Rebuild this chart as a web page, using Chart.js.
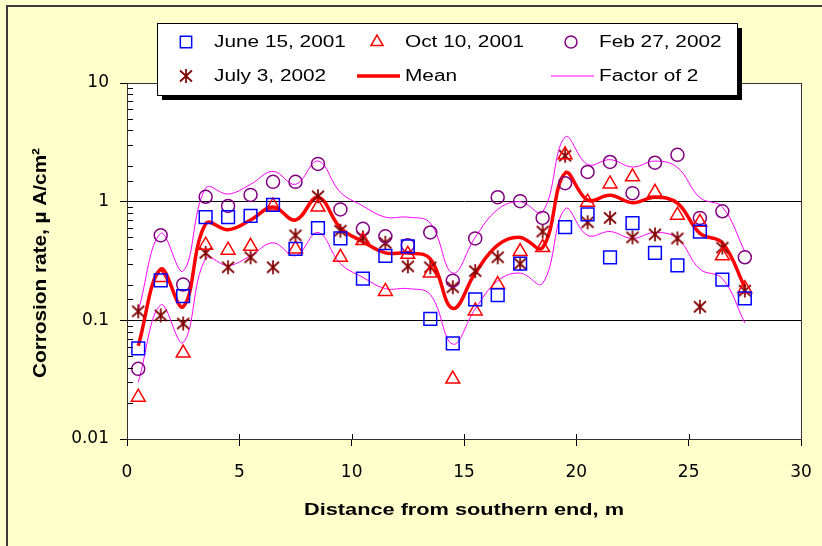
<!DOCTYPE html>
<html>
<head>
<meta charset="utf-8">
<title>Corrosion rate</title>
<script src="https://cdn.jsdelivr.net/npm/chart.js@4.4.0/dist/chart.umd.min.js"></script>
<style>
    html, body { margin: 0; padding: 0; background: #FFFFCC; }
    #wrap { width: 822px; height: 546px; }
</style>
</head>
<body>
<div id="wrap"><canvas id="corrosionChart" width="822" height="546"></canvas></div>
<script>
// positions along the structure, m
var distance = [0.5, 1.5, 2.5, 3.5, 4.5, 5.5, 6.5, 7.5, 8.5, 9.5, 10.5, 11.5, 12.5, 13.5,
                14.5, 15.5, 16.5, 17.5, 18.5, 19.5, 20.5, 21.5, 22.5, 23.5, 24.5, 25.5, 26.5, 27.5];

// corrosion rate, uA/cm2
var june2001 = [0.058, 0.217, 0.16, 0.74, 0.74, 0.76, 0.94, 0.40, 0.60, 0.49, 0.225, 0.35, 0.42, 0.103,
                0.064, 0.15, 0.163, 0.30, null, 0.61, 0.78, 0.34, 0.66, 0.37, 0.29, 0.56, 0.22, 0.153];
var oct2001 = [0.0225, 0.23, 0.053, 0.43, 0.39, 0.42, 0.92, 0.40, 0.90, 0.34, 0.47, 0.175, 0.36, 0.25,
               0.032, 0.12, 0.20, 0.38, 0.41, 2.48, 0.99, 1.41, 1.62, 1.2, 0.77, 0.67, 0.35, 0.185];
var feb2002 = [0.039, 0.52, 0.20, 1.1, 0.92, 1.14, 1.47, 1.47, 2.08, 0.86, 0.59, 0.51, 0.43, 0.55,
               0.216, 0.49, 1.09, 1.01, 0.73, 1.43, 1.78, 2.16, 1.18, 2.13, 2.48, 0.73, 0.83, 0.34];
var july2002 = [0.119, 0.11, 0.094, 0.37, 0.28, 0.34, 0.28, 0.52, 1.11, 0.57, 0.50, 0.45, 0.285, 0.28,
                0.19, 0.26, 0.34, 0.30, 0.56, 2.44, 0.67, 0.73, 0.50, 0.53, 0.49, 0.13, 0.41, 0.178];
var meanRate = [0.061, 0.27, 0.13, 0.65, 0.58, 0.70, 0.90, 0.70, 1.09, 0.60, 0.46, 0.37, 0.37, 0.33,
                0.126, 0.25, 0.43, 0.50, 0.41, 1.74, 1.03, 1.13, 0.98, 1.09, 0.97, 0.54, 0.45, 0.19];
var factorUpper = [0.12, 0.54, 0.26, 1.3, 1.16, 1.4, 1.8, 1.4, 2.2, 1.2, 0.92, 0.74, 0.74, 0.66,
                   0.25, 0.5, 0.86, 1.0, 0.82, 3.5, 2.06, 2.26, 1.96, 2.2, 1.94, 1.08, 0.9, 0.38];
var factorLower = [0.03, 0.135, 0.065, 0.33, 0.29, 0.35, 0.45, 0.35, 0.55, 0.30, 0.23, 0.185, 0.185, 0.165,
                   0.063, 0.125, 0.215, 0.25, 0.205, 0.87, 0.52, 0.56, 0.49, 0.55, 0.49, 0.27, 0.225, 0.095];

var yTicks = [0.01, 0.1, 1, 10];
var yTickLabels = ['0.01', '0.1', '1', '10'];
var xTicks = [0, 5, 10, 15, 20, 25, 30];

function pts(arr) {
    var out = [];
    for (var i = 0; i < distance.length; i++) {
        if (arr[i] !== null) out.push({ x: distance[i], y: arr[i] });
    }
    return out;
}

function isDecade(v) {
    return yTicks.some(function (t) { return Math.abs(v - t) / t < 1e-6; });
}

// six-armed star marker (X with a vertical bar)
function makeAsterisk(color) {
    var c = document.createElement('canvas');
    c.width = 16; c.height = 16;
    var g = c.getContext('2d');
    g.strokeStyle = color;
    g.lineWidth = 1.7;
    g.beginPath();
    g.moveTo(2, 2.5); g.lineTo(14, 13.5);
    g.moveTo(14, 2.5); g.lineTo(2, 13.5);
    g.moveTo(8, 1); g.lineTo(8, 15);
    g.stroke();
    return c;
}
var asterisk = makeAsterisk('#800000');

var legendItems = [
    { text: 'June 15, 2001', style: 'rect', radius: 8, color: '#0000FF', col: 0, row: 0 },
    { text: 'Oct 10, 2001', style: 'triangle', radius: 7, color: '#FF0000', col: 1, row: 0 },
    { text: 'Feb 27, 2002', style: 'circle', radius: 6, color: '#800080', col: 2, row: 0 },
    { text: 'July 3, 2002', style: asterisk, radius: 7, color: '#800000', col: 0, row: 1 },
    { text: 'Mean', line: 3.5, color: '#FF0000', col: 1, row: 1 },
    { text: 'Factor of 2', line: 1, color: '#FF00FF', col: 2, row: 1 }
];

var frame = {
    id: 'frame',
    beforeDraw: function (chart) {
        var ctx = chart.ctx, a = chart.chartArea;
        ctx.save();
        ctx.fillStyle = '#FFFFCC';
        ctx.fillRect(0, 0, chart.width, chart.height);
        ctx.fillStyle = '#3a3a3a';
        ctx.fillRect(6, 5, 2, chart.height);
        ctx.fillRect(6, 5, chart.width, 2);
        ctx.fillStyle = '#FFFFFF';
        ctx.fillRect(a.left, a.top, a.right - a.left, a.bottom - a.top);
        ctx.restore();
    },
    afterDraw: function (chart) {
        var ctx = chart.ctx, a = chart.chartArea;
        var ys = chart.scales.y, xs = chart.scales.x;
        ctx.save();
        // minor ticks on the value axis, inside the plot
        ctx.strokeStyle = '#000';
        ctx.lineWidth = 1;
        ctx.beginPath();
        ys.ticks.forEach(function (t) {
            var py = Math.round(ys.getPixelForValue(t.value)) + 0.5;
            if (!isDecade(t.value)) {
                ctx.moveTo(a.left, py); ctx.lineTo(a.left + 6, py);
            }
        });
        xTicks.forEach(function (v) {
            var px = Math.round(xs.getPixelForValue(v)) + 0.5;
            ctx.moveTo(px, a.bottom); ctx.lineTo(px, a.bottom - 5);
        });
        ctx.stroke();
        ctx.strokeStyle = '#333';
        ctx.strokeRect(Math.round(a.left) + 0.5, Math.round(a.top) + 0.5,
                       Math.round(a.right - a.left), Math.round(a.bottom - a.top));

        // legend box with drop shadow
        var bx = 157, by = 23, bw = 580, bh = 72;
        ctx.fillStyle = '#000';
        ctx.fillRect(bx + 5, by + 5, bw, bh);
        ctx.fillStyle = '#fff';
        ctx.fillRect(bx, by, bw, bh);
        ctx.strokeStyle = '#000';
        ctx.lineWidth = 1;
        ctx.strokeRect(bx + 0.5, by + 0.5, bw, bh);

        var markX = [186, 377, 571];
        var textX = [214, 405, 599];
        var rowY = [42, 76];
        legendItems.forEach(function (it) {
            var mx = markX[it.col], my = rowY[it.row];
            if (it.line) {
                ctx.strokeStyle = it.color;
                ctx.lineWidth = it.line;
                ctx.beginPath();
                ctx.moveTo(mx - 20, my); ctx.lineTo(mx + 23, my);
                ctx.stroke();
            } else {
                ctx.strokeStyle = it.color;
                ctx.fillStyle = 'rgba(0,0,0,0)';
                ctx.lineWidth = 1.5;
                Chart.helpers.drawPoint(ctx, { pointStyle: it.style, radius: it.radius, borderWidth: 1.5, rotation: 0 }, mx, my);
            }
            ctx.save();
            ctx.fillStyle = '#000';
            ctx.font = '16px "Liberation Sans", Arial, sans-serif';
            ctx.textBaseline = 'middle';
            ctx.translate(textX[it.col], my + 1);
            ctx.scale(1.3, 1);
            ctx.fillText(it.text, 0, 0);
            ctx.restore();
        });

        // axis titles
        ctx.fillStyle = '#000';
        ctx.font = 'bold 16px "Liberation Sans", Arial, sans-serif';
        ctx.textAlign = 'center';
        ctx.textBaseline = 'middle';
        var xt = 'Distance from southern end, m';
        var sx = 320 / ctx.measureText(xt).width;
        ctx.save();
        ctx.translate((a.left + a.right) / 2, 511);
        ctx.scale(sx, 1);
        ctx.fillText(xt, 0, 0);
        ctx.restore();

        var yt = 'Corrosion rate, \u00B5 A/cm\u00B2';
        var sy = 230 / ctx.measureText(yt).width;
        ctx.save();
        ctx.translate(41, 263);
        ctx.rotate(-Math.PI / 2);
        ctx.scale(sy, 1.2);
        ctx.fillText(yt, 0, 0);
        ctx.restore();
        ctx.restore();
    }
};

var tickFont = { family: 'DejaVu Sans', size: 17 };

new Chart(document.getElementById('corrosionChart'), {
    type: 'scatter',
    data: {
        datasets: [
            { label: 'June 15, 2001', data: pts(june2001), pointStyle: 'rect', pointRadius: 9,
              borderColor: '#0000FF', backgroundColor: 'rgba(0,0,0,0)', borderWidth: 1.5 },
            { label: 'Oct 10, 2001', data: pts(oct2001), pointStyle: 'triangle', pointRadius: 8,
              borderColor: '#FF0000', backgroundColor: 'rgba(0,0,0,0)', borderWidth: 1.5 },
            { label: 'Feb 27, 2002', data: pts(feb2002), pointStyle: 'circle', pointRadius: 6.5,
              borderColor: '#800080', backgroundColor: 'rgba(0,0,0,0)', borderWidth: 1.5 },
            { label: 'July 3, 2002', data: pts(july2002), pointStyle: asterisk, pointRadius: 8,
              borderColor: '#800000', backgroundColor: '#800000' },
            { label: 'Mean', data: pts(meanRate), showLine: true, pointRadius: 0,
              borderColor: '#FF0000', borderWidth: 3.5, tension: 0.4 },
            { label: 'Factor of 2', data: pts(factorUpper), showLine: true, pointRadius: 0,
              borderColor: '#FF00FF', borderWidth: 1, tension: 0.4 },
            { label: 'Factor of 2 (lower)', data: pts(factorLower), showLine: true, pointRadius: 0,
              borderColor: '#FF00FF', borderWidth: 1, tension: 0.4 }
        ]
    },
    options: {
        responsive: false,
        animation: false,
        devicePixelRatio: 1,
        layout: { padding: { top: 83, right: 21, left: 0, bottom: 0 } },
        plugins: {
            legend: { display: false },
            tooltip: { enabled: false }
        },
        scales: {
            x: {
                type: 'linear', min: 0, max: 30,
                afterBuildTicks: function (s) { s.ticks = xTicks.map(function (v) { return { value: v }; }); },
                afterFit: function (s) { s.height = 107; s.paddingLeft = 0; s.paddingRight = 0; },
                ticks: { font: tickFont, color: '#000', padding: 16, maxRotation: 0 },
                grid: { drawOnChartArea: false, color: '#000', tickColor: '#000', tickLength: 7 },
                border: { color: '#000', width: 1 }
            },
            y: {
                type: 'logarithmic', min: 0.01, max: 10,
                afterFit: function (s) { s.width = 127; s.paddingTop = 0; s.paddingBottom = 0; },
                ticks: {
                    autoSkip: false, font: tickFont, color: '#000', padding: 11,
                    callback: function (v) {
                        var i = yTicks.findIndex(function (t) { return Math.abs(v - t) / t < 1e-6; });
                        return i >= 0 ? yTickLabels[i] : '';
                    }
                },
                grid: {
                    color: function (c) { return c.tick && isDecade(c.tick.value) ? '#000' : 'rgba(0,0,0,0)'; },
                    tickColor: function (c) { return c.tick && isDecade(c.tick.value) ? '#000' : 'rgba(0,0,0,0)'; },
                    tickLength: 7
                },
                border: { color: '#000', width: 1 }
            }
        }
    },
    plugins: [frame]
});
</script>
</body>
</html>
